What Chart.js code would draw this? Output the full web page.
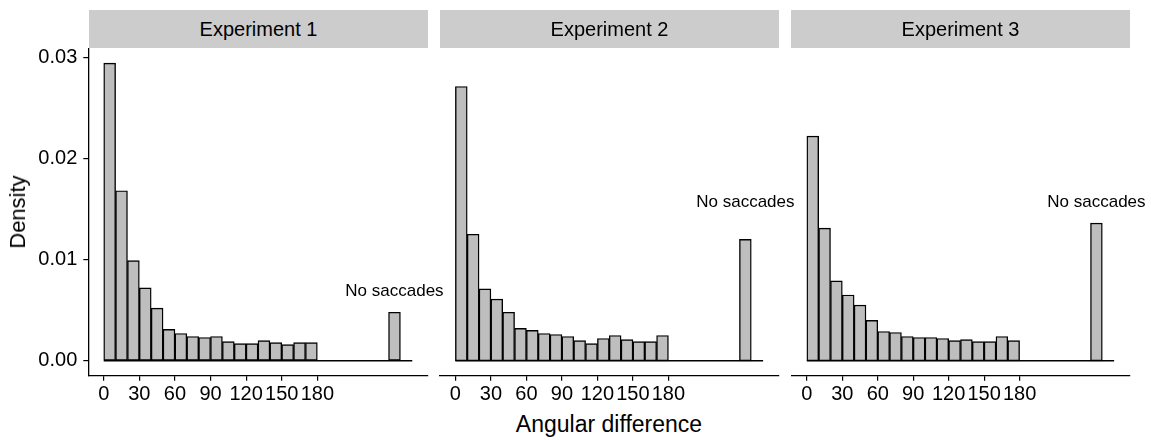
<!DOCTYPE html>
<html>
<head>
<meta charset="utf-8">
<script src="https://cdn.jsdelivr.net/npm/chart.js@4.4.1/dist/chart.umd.min.js"></script>
<style>
    html, body { margin: 0; padding: 0; background: #fff; }
    #wrap {
        position: relative; width: 1151px; height: 440px; overflow: hidden;
        font-family: "Liberation Sans", Arial, Helvetica, sans-serif; color: #000;
    }
    canvas { position: absolute; top: 0; }
    .strip {
        position: absolute; top: 10px; height: 38px; background: #cccccc;
        font-size: 20px; line-height: 38px; text-align: center;
    }
    #xTitle {
        position: absolute; left: 409px; width: 400px; top: 410px;
        font-size: 23px; line-height: 28px; text-align: center;
    }
    #yTitle {
        position: absolute; left: 18px; top: 212px; font-size: 22px; white-space: nowrap;
        transform: translate(-50%, -50%) rotate(-90deg);
    }
</style>
</head>
<body>
<div id="wrap">
    <canvas id="c1" width="460" height="410" style="left:0px"></canvas>
    <canvas id="c2" width="370" height="410" style="left:430px"></canvas>
    <canvas id="c3" width="370" height="410" style="left:781px"></canvas>
    <div class="strip" style="left:89px;width:339px">Experiment 1</div>
    <div class="strip" style="left:440px;width:339px">Experiment 2</div>
    <div class="strip" style="left:791px;width:339px">Experiment 3</div>
    <div id="yTitle">Density</div>
    <div id="xTitle">Angular difference</div>
</div>
<script>
// histogram bins (width 10); the last one at 245 is the "No saccades" bin
const binCentres = [5, 15, 25, 35, 45, 55, 65, 75, 85, 95, 105, 115, 125, 135, 145, 155, 165, 175, 245];
const binRange = [0, 260];

const experiments = ['Experiment 1', 'Experiment 2', 'Experiment 3'];
const densityExp1 = [0.0294, 0.0168, 0.0099, 0.0072, 0.0052, 0.0031, 0.0027, 0.0024, 0.0023, 0.0024,
                     0.0019, 0.0017, 0.0017, 0.0020, 0.0018, 0.0016, 0.0018, 0.0018, 0.0048];
const densityExp2 = [0.0271, 0.0125, 0.0071, 0.0061, 0.0048, 0.0032, 0.0030, 0.0027, 0.0026, 0.0024,
                     0.0020, 0.0017, 0.0022, 0.0025, 0.0021, 0.0019, 0.0019, 0.0025, 0.0120];
const densityExp3 = [0.0222, 0.0131, 0.0079, 0.0065, 0.0055, 0.0040, 0.0029, 0.0028, 0.0024, 0.0023,
                     0.0023, 0.0022, 0.0020, 0.0021, 0.0019, 0.0019, 0.0024, 0.0020, 0.0136];

const xTicks = [0, 30, 60, 90, 120, 150, 180];
const yTicks = [0, 0.01, 0.02, 0.03];

const noteText = 'No saccades';
const noteX = [245, 245, 245];
const noteY = [0.0069, 0.0157, 0.0157];

const FONT = '"Liberation Sans", Arial, Helvetica, sans-serif';

// ggplot-like 5% expansion of the data range
const allDensity = densityExp1.concat(densityExp2, densityExp3);
const yMaxData = Math.max(...allDensity);
const yPad = yMaxData * 0.05;
const xPad = (binRange[1] - binRange[0]) * 0.05;

// draws the "No saccades" label at a data position
const noteLabel = {
    id: 'noteLabel',
    afterDatasetsDraw(chart, args, opts) {
        const { ctx, scales: { x, y } } = chart;
        ctx.save();
        ctx.font = '17px ' + FONT;
        ctx.fillStyle = '#000';
        ctx.textAlign = 'center';
        ctx.textBaseline = 'middle';
        ctx.fillText(opts.text, x.getPixelForValue(opts.x), y.getPixelForValue(opts.y));
        ctx.restore();
    }
};

const makePanel = (canvasId, density, idx, pad, showY) => {
    const ctx = document.getElementById(canvasId).getContext('2d');
    return new Chart(ctx, {
        type: 'bar',
        data: {
            datasets: [{
                type: 'line',
                data: binRange.map(v => ({ x: v, y: 0 })),
                borderColor: '#000',
                borderWidth: 1.4,
                pointRadius: 0,
                order: 0
            }, {
                label: experiments[idx],
                data: binCentres.map((c, i) => ({ x: c, y: density[i] })),
                backgroundColor: '#bebebe',
                borderColor: '#000',
                borderWidth: 1.4,
                borderSkipped: false,
                barPercentage: 1,
                categoryPercentage: 1,
                order: 1
            }]
        },
        options: {
            responsive: false,
            animation: false,
            layout: { padding: { left: pad[0], right: pad[1], top: 48.3, bottom: 0 } },
            plugins: {
                legend: { display: false },
                tooltip: { enabled: false },
                noteLabel: { text: noteText, x: noteX[idx], y: noteY[idx] }
            },
            scales: {
                x: {
                    type: 'linear',
                    offset: false,
                    min: binRange[0] - xPad,
                    max: binRange[1] + xPad,
                    afterBuildTicks: s => { s.ticks = xTicks.map(v => ({ value: v })); },
                    afterFit: s => { s.height = 34.3; },
                    grid: { offset: false, drawOnChartArea: false, drawTicks: true, tickLength: 5, color: '#000', lineWidth: 1.2 },
                    border: { display: true, color: '#000', width: 1.3 },
                    ticks: { autoSkip: false, maxRotation: 0, padding: 2, color: '#000', font: { family: FONT, size: 20 } }
                },
                y: {
                    display: showY,
                    min: -yPad,
                    max: yMaxData + yPad,
                    afterBuildTicks: s => { s.ticks = yTicks.map(v => ({ value: v })); },
                    afterFit: s => { s.width = showY ? 88.3 : 0; },
                    grid: { drawOnChartArea: false, drawTicks: true, tickLength: 5, color: '#000', lineWidth: 1.2 },
                    border: { display: true, color: '#000', width: 1.3 },
                    ticks: {
                        padding: 6, color: '#000', font: { family: FONT, size: 20 },
                        callback: v => v.toFixed(2)
                    }
                }
            }
        },
        plugins: [noteLabel]
    });
};

makePanel('c1', densityExp1, 0, [0, 32.3], true);
makePanel('c2', densityExp2, 1, [10, 21.5], false);
makePanel('c3', densityExp3, 2, [10.5, 21.5], false);
</script>
</body>
</html>
